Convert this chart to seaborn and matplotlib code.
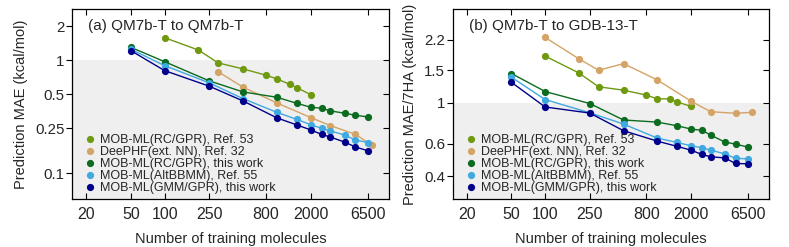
import pandas as pd
import matplotlib
matplotlib.use("Agg")
import matplotlib.pyplot as plt
import matplotlib.ticker as mticker
import seaborn as sns

sns.set_theme(style="ticks")
plt.rcParams['font.family'] = ['Liberation Sans', 'DejaVu Sans']

# series names and colours
labels = ["MOB-ML(RC/GPR), Ref. 53", "DeePHF(ext. NN), Ref. 32",
          "MOB-ML(RC/GPR), this work", "MOB-ML(AltBBMM), Ref. 55",
          "MOB-ML(GMM/GPR), this work"]
colors = ["#6f9a10", "#d4a466", "#0b6b1f", "#3fa9e0", "#00008b"]

# training set sizes
ref53_x = [100, 200, 300, 500, 800, 1000, 1300, 1500, 2000]
deephf_x = [300, 500, 1000, 2000, 3000, 5000, 7000]
deephf_b_x = [100, 200, 300, 500, 1000, 2000, 3000, 5000, 7000]
work_x = [50, 100, 250, 500, 1000, 1500, 2000, 2500, 3000, 4000, 5000, 6500]

# (a) QM7b-T to QM7b-T
a_ref53 = [1.58, 1.23, 0.946, 0.837, 0.737, 0.683, 0.613, 0.572, 0.496]
a_deephf = [0.79, 0.577, 0.419, 0.311, 0.264, 0.221, 0.178]
a_rc = [1.30, 0.97, 0.656, 0.524, 0.47, 0.416, 0.384, 0.376, 0.356, 0.34, 0.326, 0.315]
a_alt = [1.25, 0.896, 0.63, 0.457, 0.346, 0.30, 0.269, 0.25, 0.237, 0.218, 0.197, 0.187]
a_gmm = [1.216, 0.809, 0.589, 0.436, 0.309, 0.268, 0.242, 0.221, 0.209, 0.189, 0.171, 0.158]

# (b) QM7b-T to GDB-13-T
b_ref53 = [1.79, 1.45, 1.22, 1.17, 1.10, 1.05, 1.05, 1.01, 0.956]
b_deephf = [2.26, 1.73, 1.50, 1.63, 1.33, 1.02, 0.894, 0.876, 0.887]
b_rc = [1.44, 1.15, 0.99, 0.806, 0.785, 0.75, 0.72, 0.708, 0.668, 0.612, 0.596, 0.574]
b_alt = [1.375, 1.04, 0.882, 0.766, 0.643, 0.609, 0.584, 0.57, 0.553, 0.528, 0.499, 0.496]
b_gmm = [1.29, 0.948, 0.879, 0.705, 0.619, 0.58, 0.553, 0.524, 0.509, 0.502, 0.468, 0.466]

x_ticks = [20, 50, 100, 250, 800, 2000, 6500]
a_yticks = [0.1, 0.25, 0.5, 1, 2]
a_yticklabels = ["0.1", "0.25", "0.5", "1", "2"]
b_yticks = [0.4, 0.6, 1, 1.5, 2.2]
b_yticklabels = ["0.4", "0.6", "1", "1.5", "2.2"]

fig = plt.figure(figsize=(7.89, 2.47), dpi=100)
ax_a = fig.add_axes([0.0913, 0.194, 0.402, 0.770])
ax_b = fig.add_axes([0.574, 0.194, 0.401, 0.770])

panels = [
    (ax_a, [(ref53_x, a_ref53), (deephf_x, a_deephf), (work_x, a_rc), (work_x, a_alt), (work_x, a_gmm)],
     (0.0592, 2.84), a_yticks, a_yticklabels, "Prediction MAE (kcal/mol)", "(a) QM7b-T to QM7b-T"),
    (ax_b, [(ref53_x, b_ref53), (deephf_b_x, b_deephf), (work_x, b_rc), (work_x, b_alt), (work_x, b_gmm)],
     (0.30, 3.23), b_yticks, b_yticklabels, "Prediction MAE/7HA (kcal/mol)", "(b) QM7b-T to GDB-13-T"),
]

for ax, series, ylim, yt, ytl, ylabel, title in panels:
    ax.axhspan(ylim[0], 1, color="#efefef", zorder=0, lw=0)
    for (xs, ys), lab, col in zip(series, labels, colors):
        df = pd.DataFrame({"n": xs, "mae": ys})
        sns.lineplot(data=df, x="n", y="mae", ax=ax, color=col, marker="o",
                     markersize=5.2, markeredgewidth=0, linewidth=1.0, label=lab)
    ax.set_xscale("log")
    ax.set_yscale("log")
    ax.set_xlim(15, 10000)
    ax.set_ylim(*ylim)
    ax.xaxis.set_major_locator(mticker.FixedLocator(x_ticks))
    ax.xaxis.set_major_formatter(mticker.FixedFormatter([str(t) for t in x_ticks]))
    ax.xaxis.set_minor_locator(mticker.NullLocator())
    ax.yaxis.set_major_locator(mticker.FixedLocator(yt))
    ax.yaxis.set_major_formatter(mticker.FixedFormatter(ytl))
    ax.yaxis.set_minor_locator(mticker.NullLocator())
    ax.tick_params(axis="x", which="major", direction="in", top=True, length=4,
                   width=0.8, labelsize=11.5, pad=6, color="black")
    ax.tick_params(axis="y", which="major", direction="out", length=4,
                   width=0.8, labelsize=10.8, pad=1.5, color="black")
    ax.tick_params(axis="y", which="major", right=True)
    for s in ax.spines.values():
        s.set_color("black")
        s.set_linewidth(0.9)
    ax.set_xlabel("Number of training molecules", fontsize=10.5, labelpad=7)
    ax.set_ylabel(ylabel, fontsize=10.5, labelpad=5)
    ax.text(0.05, 0.912, title, transform=ax.transAxes, fontsize=11,
            va="center", ha="left")
    ax.legend(loc="lower left", bbox_to_anchor=(0.042, 0.025), frameon=False,
              fontsize=9, handlelength=0.8, handletextpad=0.35, labelspacing=0.0,
              borderaxespad=0, borderpad=0)
    for leg_line in ax.get_legend().get_lines():
        leg_line.set_linestyle("none")

# right-side ticks point inward
for ax in (ax_a, ax_b):
    for tick in ax.yaxis.get_major_ticks():
        tick.tick2line.set_marker(matplotlib.lines.TICKLEFT)

fig.savefig("out.png", dpi=100)
